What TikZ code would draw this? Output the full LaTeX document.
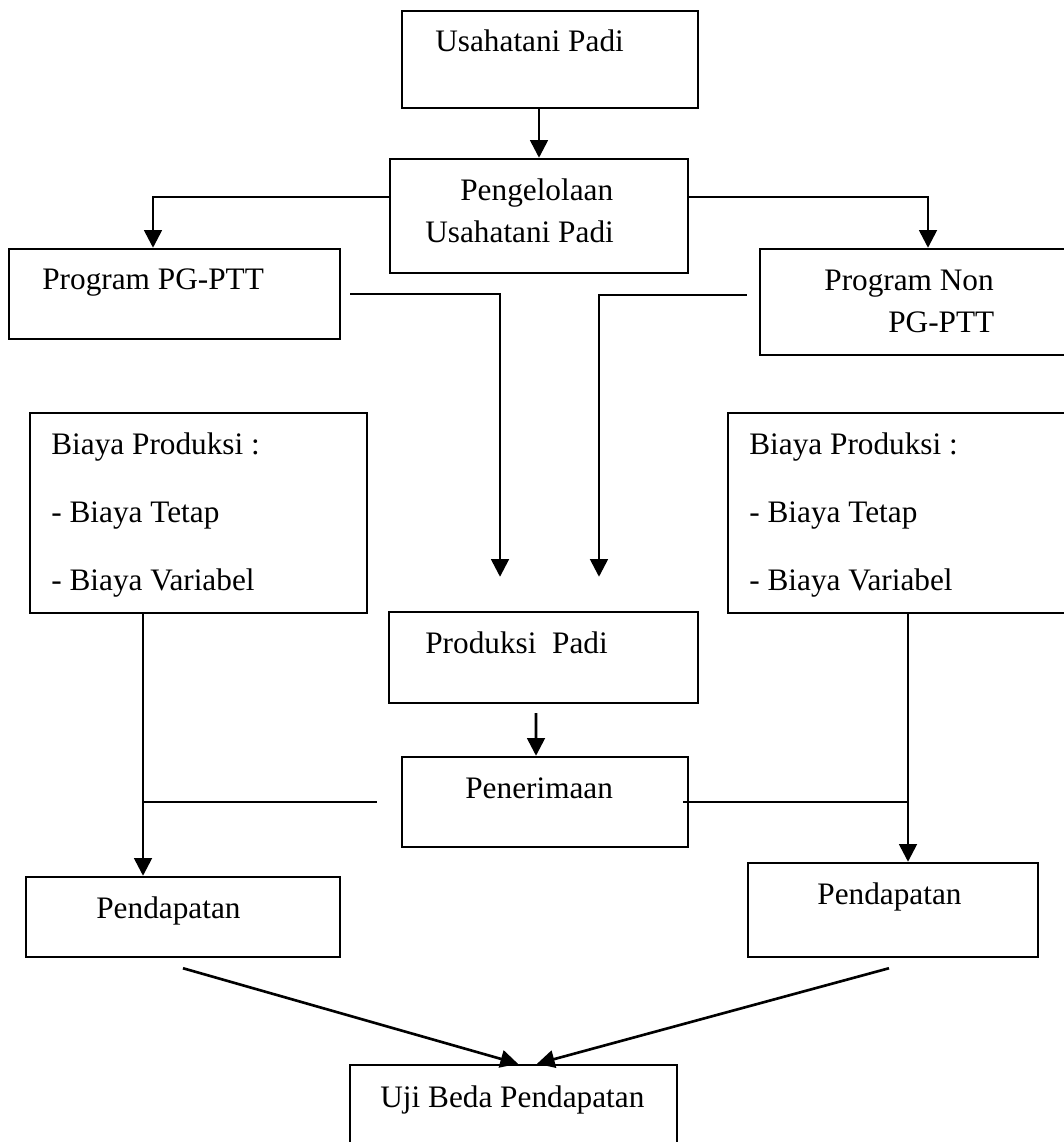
\documentclass[tikz,border=0pt]{standalone}
\usepackage{fontspec}
\setmainfont{Liberation Serif}
\usetikzlibrary{arrows.meta, positioning, fit}

\begin{document}
\begin{tikzpicture}[x=0.02cm, y=-0.02cm,
		box/.style={draw, line width=1.4pt, inner sep=0pt},
		txt/.style={inner sep=0pt, anchor=base west, align=left,
			font=\fontsize{17.8}{23.8}\selectfont},
		arr/.style={line width=1.5pt, -{Triangle[length=10pt, width=10pt]}},
		link/.style={line width=1.1pt}]
	\useasboundingbox (0,0) rectangle (1063,1142);

	% boxes
	\node (usahatani) [box, fit={(402,11) (698,108)}] {};
	\node (pengelolaan) [box, fit={(390,159) (688,273)}] {};
	\node (program) [box, fit={(9,249) (340,339)}] {};
	\node (nonprogram) [box, fit={(760,249) (1068,355)}] {};
	\node (biayaA) [box, fit={(30,413) (367,613)}] {};
	\node (biayaB) [box, fit={(728,413) (1068,613)}] {};
	\node (produksi) [box, fit={(389,612) (698,703)}] {};
	\node (penerimaan) [box, fit={(402,757) (688,847)}] {};
	\node (pendapatanA) [box, fit={(26,877) (340,957)}] {};
	\node (pendapatanB) [box, fit={(748,863) (1038,957)}] {};
	\node (uji) [box, fit={(350,1065) (677,1160)}] {};

	% texts (multi-line: base = last line)
	\node (t-usahatani) [txt] at (435,52) {Usahatani Padi};
	\node (t-pengelolaan) [txt] at (425,242) {\hspace*{0.7cm}Pengelolaan\\Usahatani Padi};
	\node (t-program) [txt] at (42,289) {Program PG-PTT};
	\node (t-nonprogram) [txt] at (824,332) {Program Non\\\hspace*{1.28cm}PG-PTT};
	\node (t-biayaA) [txt, font=\fontsize{17.8}{38.6}\selectfont] at (51,590)
		{Biaya Produksi :\\- Biaya Tetap\\- Biaya Variabel};
	\node (t-biayaB) [txt, font=\fontsize{17.8}{38.6}\selectfont] at (749,590)
		{Biaya Produksi :\\- Biaya Tetap\\- Biaya Variabel};
	\node (t-produksi) [txt] at (425,653) {Produksi\ \ Padi};
	\node (t-penerimaan) [txt] at (465,798) {Penerimaan};
	\node (t-pendapatanA) [txt] at (96,918) {Pendapatan};
	\node (t-pendapatanB) [txt] at (817,904) {Pendapatan};
	\node (t-uji) [txt] at (380,1107) {Uji Beda Pendapatan};

	% connectors
	\draw [arr] (usahatani.south -| pengelolaan.north) -- (pengelolaan.north);
	\draw [arr] ([yshift=0.38cm]pengelolaan.west) -| ([xshift=-0.43cm]program.north);
	\draw [arr] ([yshift=0.38cm]pengelolaan.east) -| (nonprogram.north -| 928,0);
	\draw [arr] ([xshift=0.18cm]program.east)
		-| ([xshift=-0.87cm, yshift=0.68cm]produksi.north);
	\draw [arr] ([xshift=-0.24cm, yshift=0.14cm]nonprogram.west)
		-| ([xshift=1.11cm, yshift=0.68cm]produksi.north);
	\draw [arr] ([xshift=-0.15cm, yshift=-0.18cm]produksi.south)
		-- ([xshift=-0.18cm]penerimaan.north);
	\draw [arr] ([xshift=-1.11cm]biayaA.south)
		-- ([xshift=-1.11cm]biayaA.south |- pendapatanA.north);
	\draw [link] ([xshift=-0.48cm]penerimaan.west)
		-- ([xshift=-1.11cm]biayaA.south |- penerimaan.west);
	\draw [arr] (biayaB.south -| 908,0)
		-- (pendapatanB.north -| 908,0);
	\draw [link] ([xshift=-0.12cm]penerimaan.east)
		-- (penerimaan.east -| 908,0);
	\draw [arr] ([yshift=-0.2cm]pendapatanA.south) -- ([xshift=0.09cm]uji.north);
	\draw [arr] ([xshift=-0.08cm, yshift=-0.2cm]pendapatanB.south)
		-- ([xshift=0.47cm]uji.north);
\end{tikzpicture}
\end{document}
